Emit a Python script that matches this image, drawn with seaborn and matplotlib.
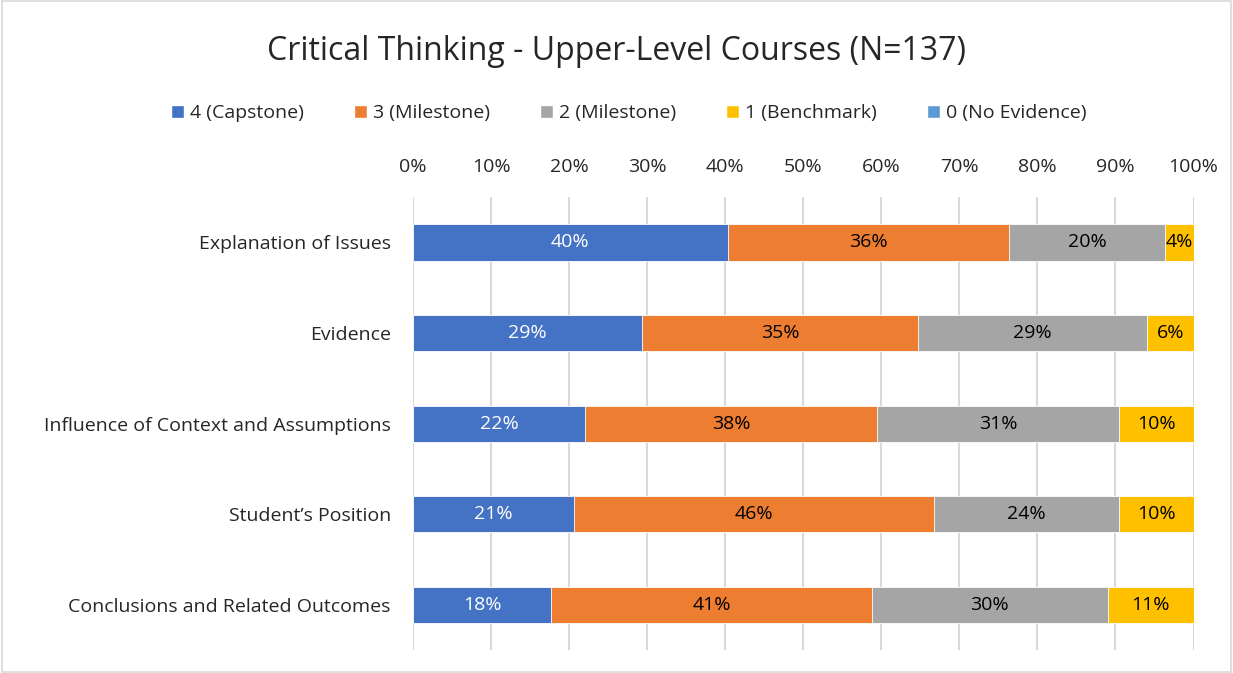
import pandas as pd
import numpy as np
import matplotlib
matplotlib.use("Agg")
import matplotlib.pyplot as plt
import seaborn as sns
from matplotlib.patches import Patch, Rectangle

# Data (percent of N=137)
criteria = ["Explanation of Issues", "Evidence", "Influence of Context and Assumptions",
            "Student\u2019s Position", "Conclusions and Related Outcomes"]
levels = ["4 (Capstone)", "3 (Milestone)", "2 (Milestone)", "1 (Benchmark)", "0 (No Evidence)"]
capstone = [40.3, 29.3, 22.0, 20.6, 17.7]
milestone3 = [36.1, 35.4, 37.5, 46.2, 41.1]
milestone2 = [19.9, 29.4, 30.9, 23.6, 30.2]
benchmark = [3.7, 5.9, 9.6, 9.6, 11.0]
no_evidence = [0, 0, 0, 0, 0]
colors = ["#4472C4", "#ED7D31", "#A5A5A5", "#FFC000", "#5B9BD5"]

df = pd.DataFrame({"criterion": criteria, levels[0]: capstone, levels[1]: milestone3,
                   levels[2]: milestone2, levels[3]: benchmark, levels[4]: no_evidence})
cum = df[levels].cumsum(axis=1)

sns.set_style("white")
plt.rcParams["font.family"] = ["Open Sans", "DejaVu Sans"]

fig = plt.figure(figsize=(12.33, 6.73), dpi=100)
ax = fig.add_axes([0.335, 0.034, 0.633, 0.673])

# stacked bars: draw cumulative totals from the right-most segment backwards
for lev, col in reversed(list(zip(levels, colors))):
    sns.barplot(x=cum[lev], y=df["criterion"], color=col, orient="h", width=0.4,
                ax=ax, saturation=1, linewidth=0.6, edgecolor="white", zorder=3)

# segment labels
for i, row in df.iterrows():
    left = 0
    for lev, col in zip(levels, colors):
        v = row[lev]
        if v > 0:
            tc = "white" if lev == levels[0] else "black"
            ax.text(left + v / 2, i, f"{round(v):.0f}%", ha="center", va="center",
                    fontsize=14, color=tc, zorder=5)
        left += v

ax.set_xlim(0, 100)
ax.set_ylim(4.5, -0.5)
ax.set_xticks(np.arange(0, 101, 10))
ax.set_xticklabels([f"{t}%" for t in range(0, 101, 10)])
ax.xaxis.tick_top()
ax.tick_params(axis="x", length=0, pad=15, labelsize=14)
ax.tick_params(axis="y", length=0, pad=16, labelsize=14)
ax.grid(axis="x", color="#D9D9D9", linewidth=1.5, zorder=0)
ax.set_axisbelow(True)
ax.set_xlabel("")
ax.set_ylabel("")
for s in ax.spines.values():
    s.set_visible(False)

fig.suptitle("Critical Thinking - Upper-Level Courses (N=137)", y=0.948, fontsize=23)

handles = [Patch(facecolor=c, label=l) for l, c in zip(levels, colors)]
fig.legend(handles=handles, loc="center", bbox_to_anchor=(0.51, 0.832), ncol=5,
           frameon=False, fontsize=14, handlelength=0.65, handleheight=0.65,
           handletextpad=0.3, columnspacing=2.6)

fig.add_artist(Rectangle((0.002, 0.002), 0.996, 0.996, transform=fig.transFigure,
                         fill=False, edgecolor="#D9D9D9", linewidth=1.2))

fig.savefig("out.png", dpi=100)
